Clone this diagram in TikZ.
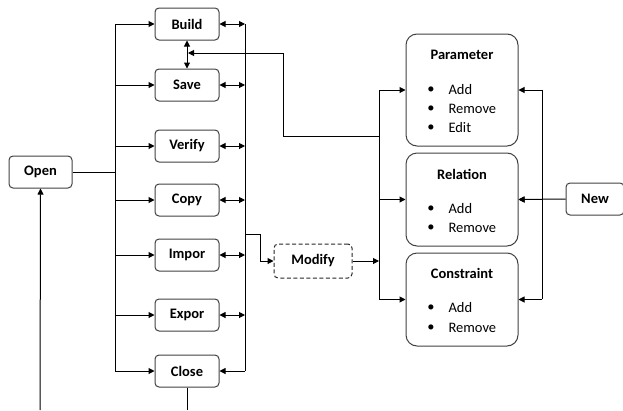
\documentclass[tikz,border=0pt]{standalone}
\usepackage{fontspec}
\setmainfont{Carlito}
\usepackage{tikz}
\usetikzlibrary{arrows.meta}

\tikzset{
  box/.style={draw=black!75, line width=1pt, rounded corners=4pt, minimum height=32pt, inner sep=1pt, font=\bfseries\fontsize{14.5}{16}\selectfont},
  bigbox/.style={draw=black!75, line width=1pt, rounded corners=11pt, minimum width=112pt},
  ttl/.style={font=\bfseries\fontsize{14.5}{16}\selectfont},
  arr/.style={-{Triangle[length=6pt,width=6pt]}},
  darr/.style={{Triangle[length=6pt,width=6pt]}-{Triangle[length=6pt,width=6pt]}},
  lbl/.style={font=\fontsize{14.5}{16}\selectfont, anchor=west, inner sep=0pt},
}

\begin{document}
\begin{tikzpicture}[x=1pt, y=-1pt, line width=1pt]
            \useasboundingbox (0,0) rectangle (623,410);
            % left column
            \node[box, minimum width=63pt] (open) at (40.5,172) {Open};
            \node[box, minimum width=64pt] (build) at (187,24) {Build};
            \node[box, minimum width=64pt] (save) at (187,85) {Save};
            \node[box, minimum width=64pt] (verify) at (187,146) {Verify};
            \node[box, minimum width=64pt] (copy) at (187,200) {Copy};
            \node[box, minimum width=64pt] (impor) at (187,255) {Impor};
            \node[box, minimum width=64pt] (expor) at (187,315) {Expor};
            \node[box, minimum width=64pt] (close) at (187,371) {Close};
            \node[box, draw=black!85, dash pattern=on 4pt off 2.5pt, minimum width=78pt, minimum height=34pt] (modify) at (313,261) {Modify};
            \node[box, minimum width=58pt] (new) at (595,199) {New};
            % right column
            \node[bigbox, minimum height=112pt] (param) at (462,90) {};
            \node[bigbox, minimum height=93pt] (rel) at (462,199.5) {};
            \node[bigbox, minimum height=93pt] (cons) at (462,299.5) {};
            \node[ttl] at (462,55) {Parameter};
            \node[ttl] at (462,174) {Relation};
            \node[ttl] at (462,273) {Constraint};
            \foreach \y/\t in {90/Add, 109/Remove, 128/Edit, 209/Add, 228/Remove, 308/Add, 328/Remove} {
              \node[lbl, anchor=center] at (431,\y) {\textbullet};
              \node[lbl] at (448,\y) {\t};
            }
            % buses
            \coordinate (lb) at (115,0);
            \coordinate (rb) at (245,0);
            \coordinate (pb) at (379,0);
            \coordinate (nb) at (542,0);
            \draw (115,24) -- (115,371);
            \draw (245,24) -- (245,371);
            \draw (379,90) -- (379,299);
            \draw (542,90) -- (542,299);
            \draw (open.east) -- (lb |- open.east);
            \draw[arr] (40,410) -- (open.south);
            \draw (close.south) -- (187,410);
            \foreach \b in {build, save, verify, copy, impor, expor, close}
              \draw[arr] (lb |- \b.west) -- (\b.west);
            \foreach \b in {build, save, verify, copy, impor, expor}
              \draw[darr] (\b.east) -- (rb |- \b.east);
            \draw[arr] (rb |- close.east) -- (close.east);
            \draw[darr] (build.south) -- (save.north);
            \draw[arr] (379,136) -- (283,136) -- (283,53) -- (188,53);
            \draw[arr] (245,234) -| (260,261) -- (modify.west);
            \draw[arr] (modify.east) -- (pb |- modify.east);
            \foreach \b in {param, rel, cons} {
              \draw[arr] (pb |- \b.west) -- (\b.west);
              \draw[arr] (nb |- \b.east) -- (\b.east);
            }
            \draw[arr] (new.west) -- (rel.east);
        \end{tikzpicture}
\end{document}
